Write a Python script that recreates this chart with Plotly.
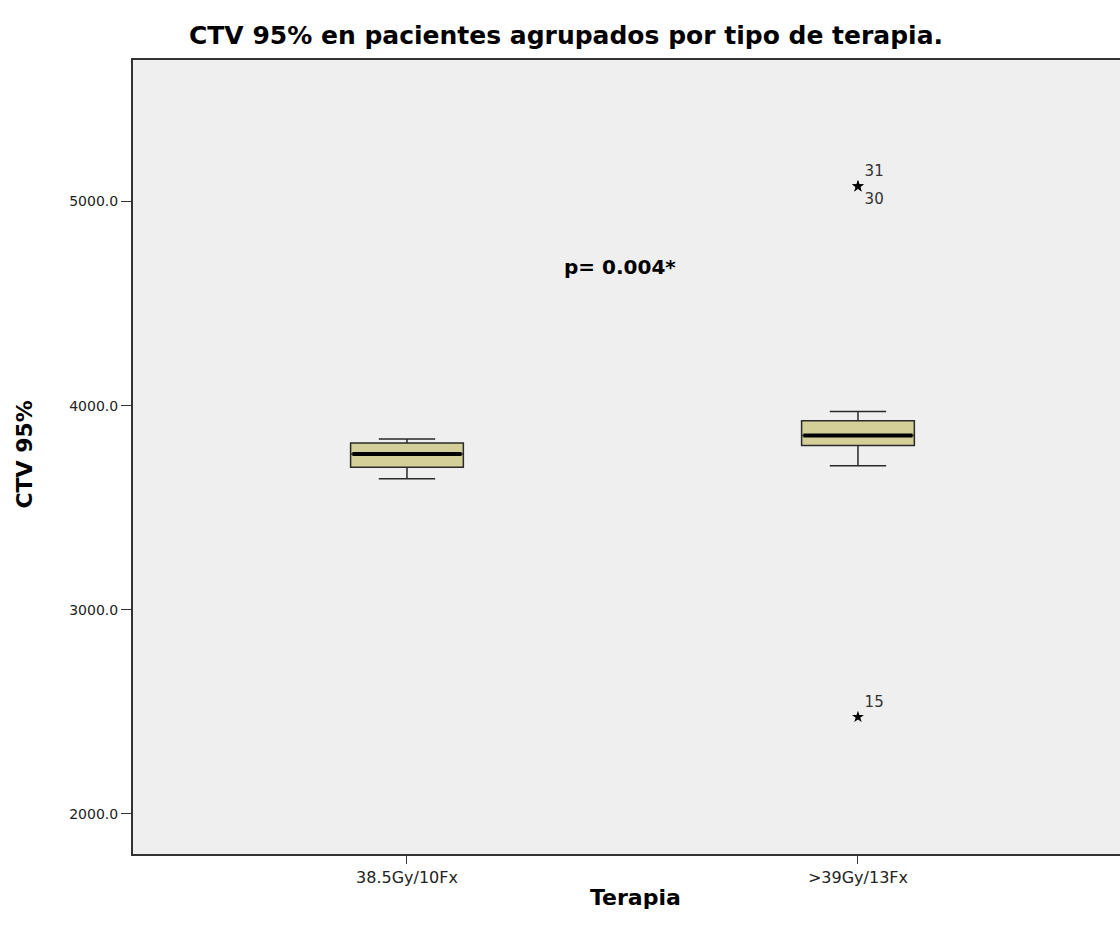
import plotly.graph_objects as go

categories = ["38.5Gy/10Fx", ">39Gy/13Fx"]
cat_pos = [0, 1]
q1 = [3698, 3804]
median = [3763, 3853]
q3 = [3817, 3926]
lower_whisker = [3642, 3706]
upper_whisker = [3837, 3971]

outlier_cat = [1, 1, 1]
outlier_val = [5074, 5074, 2475]
outlier_id = ["31", "30", "15"]
outlier_textpos = ["top right", "bottom right", "top right"]

p_text = "p= 0.004*"
p_pos = (0.472, 4681)

box_w = 0.25
font = "DejaVu Sans, Liberation Sans, sans-serif"

fig = go.Figure()
for i, c in enumerate(categories):
    fig.add_trace(go.Box(
        x=[cat_pos[i]], q1=[q1[i]], median=[median[i]], q3=[q3[i]],
        lowerfence=[lower_whisker[i]], upperfence=[upper_whisker[i]],
        width=box_w, whiskerwidth=0.5, boxpoints=False,
        fillcolor="#D4CF98", line=dict(color="#2a2a2a", width=1.5),
        showlegend=False, hoverinfo="skip"))
    fig.add_trace(go.Scatter(
        x=[cat_pos[i] - box_w / 2 + 0.004, cat_pos[i] + box_w / 2 - 0.004],
        y=[median[i], median[i]], mode="lines",
        line=dict(color="black", width=4), showlegend=False, hoverinfo="skip"))

for xc, v, lab, tp in zip(outlier_cat, outlier_val, outlier_id, outlier_textpos):
    fig.add_trace(go.Scatter(
        x=[cat_pos[xc]], y=[v], mode="markers+text",
        marker=dict(symbol="star", size=9, color="black"),
        text=[lab], textposition=tp,
        textfont=dict(family=font, size=15, color="#333"),
        showlegend=False, hoverinfo="skip"))

fig.add_annotation(x=p_pos[0], y=p_pos[1], xref="x", yref="y", text="<b>" + p_text + "</b>",
                   showarrow=False, font=dict(family=font, size=20, color="black"))

fig.add_annotation(x=(25 - 133) / 987, y=0.503, xref="paper", yref="paper",
                   xanchor="center", yanchor="middle",
                   text="<b>CTV 95%</b>", textangle=-90, showarrow=False,
                   font=dict(family=font, size=22, color="black"))
fig.add_annotation(x=(635 - 133) / 987, y=(854 - 897) / 793.3, xref="paper", yref="paper",
                   xanchor="center", yanchor="middle",
                   text="<b>Terapia</b>", showarrow=False,
                   font=dict(family=font, size=22, color="black"))

fig.update_layout(
    width=1120, height=937,
    margin=dict(l=133, r=0, t=60, b=83),
    paper_bgcolor="white", plot_bgcolor="#EFEFEF",
    title=dict(text="<b>CTV 95% en pacientes agrupados por tipo de terapia.</b>",
               x=566 / 1120, xanchor="center", y=1 - 35 / 937, yanchor="middle",
               font=dict(family=font, size=25, color="black")),
    font=dict(family=font),
)
fig.update_xaxes(range=[-0.6075, 1.581], tickvals=cat_pos, ticktext=categories,
                 showgrid=False, zeroline=False, showline=True, mirror=True,
                 linecolor="#333", linewidth=2, ticks="outside", ticklen=8,
                 tickcolor="#333", tickfont=dict(family=font, size=16, color="#222"))
fig.update_yaxes(range=[1803.9, 5692.6], tickvals=[2000, 3000, 4000, 5000],
                 tickformat=".1f", showgrid=False, zeroline=False, showline=True,
                 linecolor="#333", linewidth=2, ticks="outside", ticklen=10,
                 tickcolor="#333", tickfont=dict(family=font, size=14, color="#222"))

fig.write_html("out.html")
